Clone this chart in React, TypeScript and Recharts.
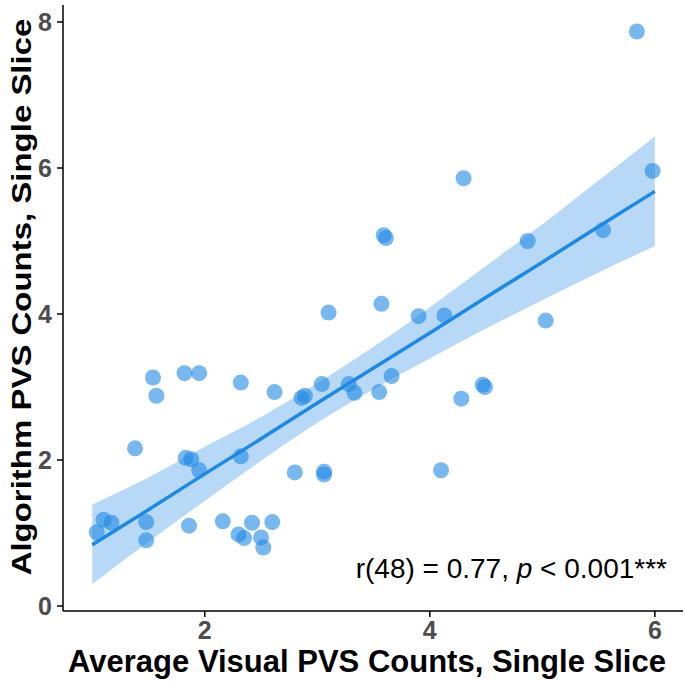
import { ComposedChart, Scatter, Line, Area, XAxis, YAxis } from "recharts";

// per-subject counts
const visualCounts = [
  1.04, 1.1, 1.17, 1.48, 1.48, 1.38, 1.54, 1.57, 1.82, 1.95,
  1.83, 1.88, 1.95, 1.86, 2.32, 2.32, 2.16, 2.3, 2.35, 2.42,
  2.5, 2.52, 2.6, 2.62, 2.8, 3.06, 3.06, 2.86, 2.89, 3.04,
  3.1, 3.28, 3.33, 3.55, 3.57, 3.9, 4.13, 5.03, 3.66, 4.28,
  4.47, 4.49, 4.1, 5.84, 5.98, 4.3, 3.59, 3.61, 4.87, 5.54,
];
const algorithmCounts = [
  1.01, 1.18, 1.14, 1.15, 0.9, 2.16, 3.13, 2.88, 3.19, 3.19,
  2.03, 2.01, 1.86, 1.1, 3.06, 2.05, 1.16, 0.98, 0.93, 1.14,
  0.94, 0.8, 1.15, 2.93, 1.83, 1.84, 1.8, 2.85, 2.88, 3.04,
  4.02, 3.04, 2.92, 2.93, 4.14, 3.97, 3.98, 3.91, 3.15, 2.84,
  3.03, 3.0, 1.86, 7.87, 5.96, 5.86, 5.08, 5.04, 5.0, 5.15,
];

// fitted line and its confidence band
const bandX = [1, 1.5, 2, 2.5, 3, 3.5, 4, 4.5, 5, 5.5, 6];
const fitY = [0.84, 1.32, 1.81, 2.29, 2.78, 3.26, 3.74, 4.23, 4.71, 5.2, 5.68];
const bandLow = [0.3, 0.88, 1.44, 1.99, 2.51, 2.97, 3.39, 3.8, 4.19, 4.57, 4.93];
const bandHigh = [1.39, 1.76, 2.18, 2.59, 3.05, 3.55, 4.09, 4.66, 5.23, 5.83, 6.43];

const xTicks = [2, 4, 6];
const yTicks = [0, 2, 4, 6, 8];

const points = visualCounts.map((x, i) => ({ x, y: algorithmCounts[i] }));
const bandData = bandX.map((x, i) => ({
  x,
  fit: fitY[i],
  band: [bandLow[i], bandHigh[i]],
}));

const BLUE = "#1E88E5";
const FONT = "'Liberation Sans', Arial, sans-serif";

const Dot = (props: any) => (
  <circle cx={props.cx} cy={props.cy} r={8} fill={BLUE} fillOpacity={0.6} />
);

// y title is a bit condensed in the original
const YTitle = () => (
  <text
    transform="translate(21,297) rotate(-90) scale(1.03,0.86)"
    textAnchor="middle"
    dominantBaseline="central"
    fill="#000"
    fontSize={32}
    fontWeight={700}
    fontFamily={FONT}
  >
    Algorithm PVS Counts, Single Slice
  </text>
);

export default function App() {
  return (
    <div style={{ position: "absolute", left: 0, top: 0, width: 685, height: 685, background: "#fff" }}>
      <ComposedChart
        width={685}
        height={685}
        data={bandData}
        margin={{ top: 5, right: 2, bottom: 0, left: 0 }}
      >
        <XAxis
          dataKey="x"
          type="number"
          domain={[0.74, 6.25]}
          ticks={xTicks}
          allowDataOverflow
          height={74}
          tickSize={6}
          tickMargin={4}
          stroke="#000"
          strokeWidth={1.5}
          tick={{ fill: "#4d4d4d", fontSize: 25, fontWeight: 700, fontFamily: FONT }}
          label={{
            value: "Average Visual PVS Counts, Single Slice",
            position: "insideBottom",
            offset: 13,
            dx: -6,
            style: { fill: "#000", fontSize: 31, fontWeight: 700, fontFamily: FONT },
          }}
        />
        <YAxis
          type="number"
          domain={[-0.0685, 8.233]}
          ticks={yTicks}
          allowDataOverflow
          width={63}
          tickSize={6}
          tickMargin={5}
          stroke="#000"
          strokeWidth={1.5}
          tick={{ fill: "#4d4d4d", fontSize: 25, fontWeight: 700, fontFamily: FONT }}
          label={YTitle}
        />
        <Area
          type="monotone"
          dataKey="band"
          stroke="none"
          fill={BLUE}
          fillOpacity={0.32}
          isAnimationActive={false}
        />
        <Line
          type="linear"
          dataKey="fit"
          stroke={BLUE}
          strokeWidth={3.5}
          dot={false}
          activeDot={false}
          isAnimationActive={false}
        />
        <Scatter data={points} dataKey="y" shape={Dot} isAnimationActive={false} />
      </ComposedChart>
      <div
        style={{
          position: "absolute",
          right: 18,
          top: 553,
          fontFamily: FONT,
          fontSize: 28,
          color: "#000",
          whiteSpace: "nowrap",
          lineHeight: "32px",
        }}
      >
        r(48) = 0.77, <i>p</i> &lt; 0.001***
      </div>
    </div>
  );
}
